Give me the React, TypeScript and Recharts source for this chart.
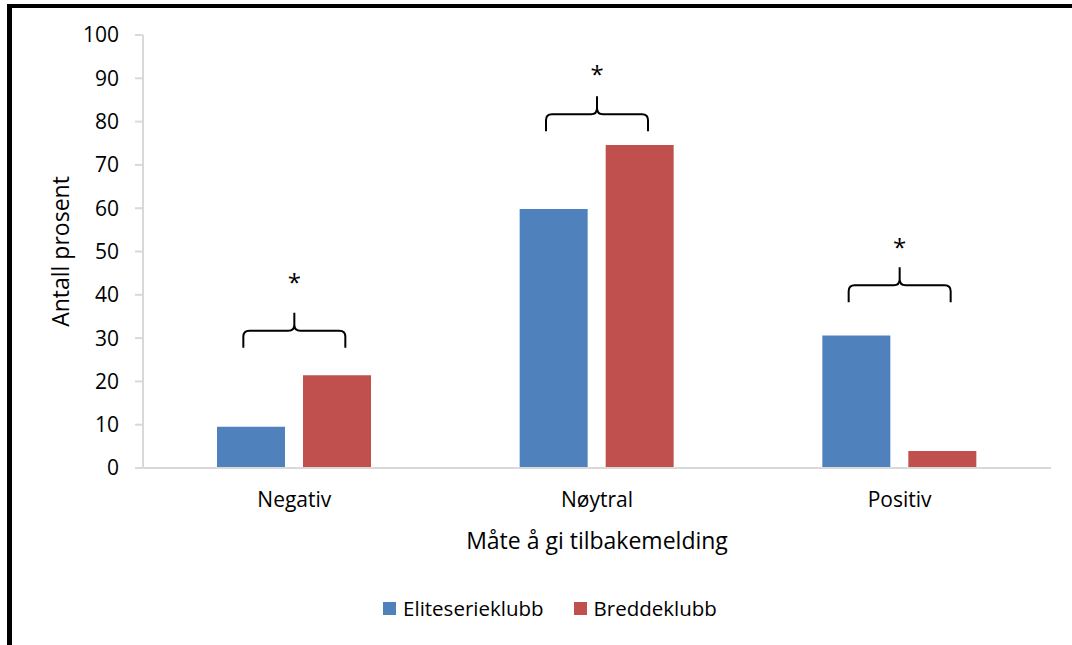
import React from 'react';
import { BarChart, Bar, XAxis, YAxis, Legend, ReferenceDot } from 'recharts';

const categories = ['Negativ', 'Nøytral', 'Positiv'];
const eliteserieklubb = [9.5, 59.8, 30.6];
const breddeklubb = [21.4, 74.6, 3.9];
const seriesNames = ['Eliteserieklubb', 'Breddeklubb'];
const seriesColors = ['#4f81bd', '#c0504d'];
const yTicks = [0, 10, 20, 30, 40, 50, 60, 70, 80, 90, 100];

// significance brackets: base level of the brace and level of the star, per category
const braceLevels = [27.8, 77.8, 38.3];
const starLevels = [43.4, 91.4, 51.4];
const starMarks = ['*', '*', '*'];

const FONT = '"Open Sans", sans-serif';

const chartData = categories.map((name, i) => ({
  name,
  elite: eliteserieklubb[i],
  bredde: breddeklubb[i],
}));

const Brace = (props: any) => {
  const { cx, cy } = props;
  if (cx == null || cy == null) return null;
  const x0 = cx - 51;
  const x1 = cx + 51;
  const yh = cy - 17;
  const yp = cy - 35;
  const d = [
    `M ${x0} ${cy}`,
    `L ${x0} ${yh + 6}`,
    `Q ${x0} ${yh} ${x0 + 6} ${yh}`,
    `L ${cx - 6} ${yh}`,
    `Q ${cx} ${yh} ${cx} ${yh - 6}`,
    `L ${cx} ${yp}`,
    `M ${cx} ${yh - 6}`,
    `Q ${cx} ${yh} ${cx + 6} ${yh}`,
    `L ${x1 - 6} ${yh}`,
    `Q ${x1} ${yh} ${x1} ${yh + 6}`,
    `L ${x1} ${cy}`,
  ].join(' ');
  return <path d={d} fill="none" stroke="#000" strokeWidth={2} />;
};

const Star = (props: any) => {
  const { cx, cy, mark } = props;
  if (cx == null || cy == null) return null;
  return (
    <text x={cx} y={cy + 11} textAnchor="middle" fontSize={24} fontFamily={FONT} fill="#000">
      {mark}
    </text>
  );
};

const LegendContent = () => (
  <div
    style={{
      display: 'flex',
      justifyContent: 'center',
      alignItems: 'center',
      paddingLeft: 28,
      height: 24,
      fontFamily: FONT,
      fontSize: 20.5,
      color: '#000',
    }}
  >
    {seriesNames.map((n, i) => (
      <div key={n} style={{ display: 'flex', alignItems: 'center', marginRight: i === 0 ? 30 : 0 }}>
        <span style={{ width: 13, height: 13, background: seriesColors[i], marginRight: 7, display: 'inline-block' }} />
        <span>{n}</span>
      </div>
    ))}
  </div>
);

const YLabel = (props: any) => {
  const { viewBox } = props;
  const x = (viewBox?.x ?? 0) + 60;
  const y = (viewBox?.y ?? 0) + (viewBox?.height ?? 0) / 2;
  return (
    <text
      x={x}
      y={y}
      transform={`rotate(-90 ${x} ${y})`}
      textAnchor="middle"
      dominantBaseline="central"
      fontSize={23}
      fontFamily={FONT}
      fill="#000"
    >
      Antall prosent
    </text>
  );
};

export default function App() {
  return (
    <div style={{ position: 'absolute', left: 0, top: 0, width: 1072, height: 645, background: '#fff', overflow: 'hidden' }}>
      <BarChart
        width={1072}
        height={645}
        data={chartData}
        margin={{ top: 35, right: 21, left: 0, bottom: 25 }}
        barSize={68}
        barGap={18}
      >
        <XAxis
          dataKey="name"
          height={128}
          tickLine={false}
          tickMargin={18}
          axisLine={{ stroke: '#d9d9d9', strokeWidth: 2 }}
          tick={{ fill: '#000', fontSize: 21, fontFamily: FONT }}
          label={{
            value: 'Måte å gi tilbakemelding',
            position: 'insideBottom',
            offset: 47,
            fill: '#000',
            fontSize: 23,
            fontFamily: FONT,
          }}
        />
        <YAxis
          width={143}
          domain={[0, 100]}
          ticks={yTicks}
          interval={0}
          tickSize={8}
          tickMargin={16}
          tickLine={{ stroke: '#d9d9d9', strokeWidth: 2 }}
          axisLine={{ stroke: '#d9d9d9', strokeWidth: 2 }}
          tick={{ fill: '#000', fontSize: 21, fontFamily: FONT }}
          label={<YLabel />}
        />
        <Legend verticalAlign="bottom" width={1072} content={<LegendContent />} />
        <Bar dataKey="elite" name={seriesNames[0]} fill={seriesColors[0]} isAnimationActive={false} />
        <Bar dataKey="bredde" name={seriesNames[1]} fill={seriesColors[1]} isAnimationActive={false} />
        {categories.map((c, i) => (
          <ReferenceDot key={`b-${c}`} x={c} y={braceLevels[i]} r={1} shape={(p: any) => <Brace {...p} />} />
        ))}
        {categories.map((c, i) => (
          <ReferenceDot key={`s-${c}`} x={c} y={starLevels[i]} r={1} shape={(p: any) => <Star {...p} mark={starMarks[i]} />} />
        ))}
      </BarChart>
      <div
        style={{
          position: 'absolute',
          left: 7,
          top: 4,
          right: -10,
          bottom: -10,
          borderLeft: '5px solid #000',
          borderTop: '4px solid #000',
          pointerEvents: 'none',
        }}
      />
    </div>
  );
}
